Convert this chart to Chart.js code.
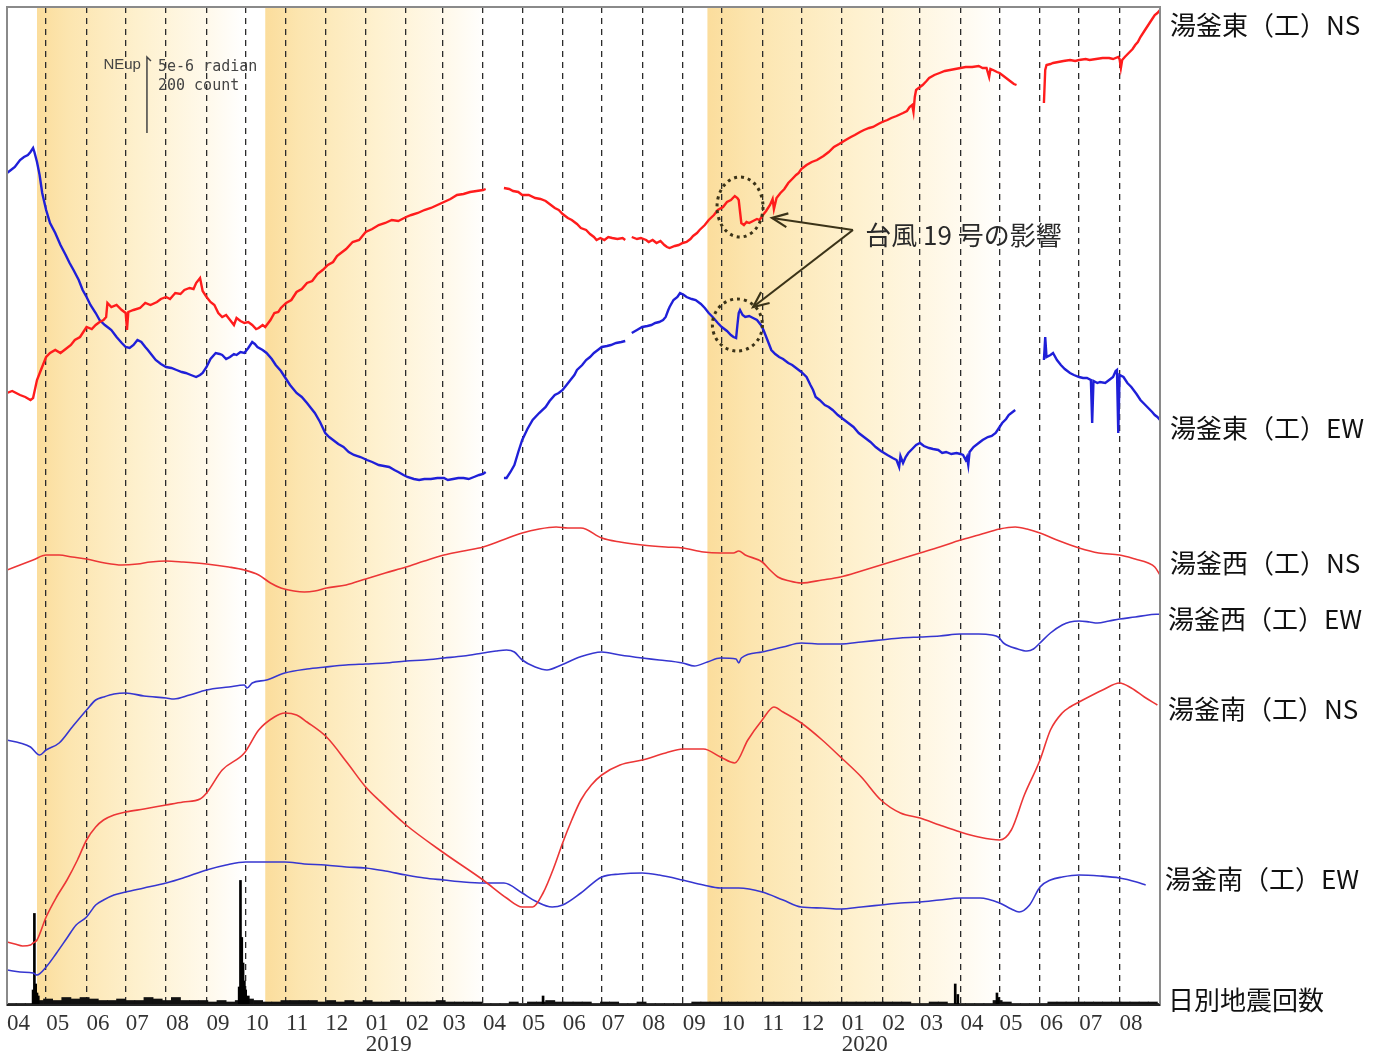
<!DOCTYPE html>
<html lang="ja">
<head>
<meta charset="utf-8">
<title>湯釜 傾斜計と日別地震回数</title>
<script src="https://cdn.jsdelivr.net/npm/chart.js@4.4.1/dist/chart.umd.min.js"></script>
<style>
  html, body { margin: 0; padding: 0; background: #fff; }
  #wrap { width: 1384px; height: 1059px; }
</style>
</head>
<body>
<div id="wrap"><canvas id="chart" width="1384" height="1059"></canvas></div>
<script>
// x = days since 2018-04-01, y = trace level (arbitrary, no axis shown)
const monthStarts = [0, 30, 61, 91, 122, 153, 183, 214, 244, 275, 306, 334, 365, 395, 426, 456, 487, 518, 548, 579, 609, 640, 671, 700, 731, 761, 792, 822, 853, 884]
const monthLabels = ['04', '05', '06', '07', '08', '09', '10', '11', '12', '01', '02', '03', '04', '05', '06', '07', '08', '09', '10', '11', '12', '01', '02', '03', '04', '05', '06', '07', '08', '']
const yearMarks = [[9, '2019'], [21, '2020']]

// shaded periods (start day, fades to white by end day)
const shadeStarts = [23, 198, 537]
const shadeEnds = [182, 368, 765]

const seriesNames = ['湯釜東（工）NS', '湯釜東（工）EW', '湯釜西（工）NS', '湯釜西（工）EW', '湯釜南（工）NS', '湯釜南（工）EW', '日別地震回数']

const eastNS = [[0,612],[4,614],[10,610],[14,608],[18,605],[20,607],[23,625],[26,635],[30,648],[33,652],[37,655],[41,652],[45,656],[49,660],[52,665],[56,668],[61,678],[65,676],[68,680],[71,683],[74,685],[76,688],[77,702],[80,698],[84,700],[88,695],[91,692],[92,675],[93,693],[97,695],[102,697],[106,702],[110,700],[115,703],[118,706],[122,708],[125,706],[129,712],[133,711],[136,715],[140,717],[143,716],[145,722],[148,727],[150,714],[153,708],[156,703],[159,700],[162,692],[165,688],[168,690],[171,685],[174,680],[176,687],[179,684],[182,682],[185,683],[188,680],[191,676],[193,677],[196,680],[198,678],[202,685],[205,692],[208,693],[210,697],[214,702],[218,705],[222,713],[226,716],[230,722],[234,724],[238,731],[242,735],[246,740],[250,743],[253,749],[256,752],[260,756],[265,763],[270,765],[275,773],[280,776],[285,780],[290,782],[295,785],[300,784],[306,788],[310,790],[315,792],[320,795],[325,797],[330,800],[335,803],[340,806],[345,810],[350,811],[355,813],[360,814],[365,815],[367,816],[368,null],[381,817],[385,816],[388,814],[392,813],[395,810],[400,810],[405,807],[409,806],[413,804],[417,800],[420,797],[423,795],[426,791],[430,787],[433,785],[437,781],[440,777],[444,775],[447,771],[450,768],[452,765],[455,767],[458,765],[461,768],[464,767],[468,766],[472,767],[474,765],[475,null],[479,768],[483,766],[486,767],[490,765],[492,763],[495,765],[498,762],[501,764],[504,760],[506,758],[508,757],[512,759],[515,760],[518,762],[521,763],[524,766],[526,769],[529,772],[531,775],[535,780],[538,785],[542,790],[545,795],[549,798],[552,803],[555,805],[558,809],[560,807],[561,805],[563,782],[565,780],[567,783],[569,782],[572,784],[575,786],[577,785],[579,789],[582,794],[585,800],[587,806],[588,796],[590,807],[593,812],[596,816],[599,822],[602,826],[605,830],[607,832],[609,836],[613,840],[617,843],[621,845],[626,849],[630,853],[634,858],[638,861],[643,865],[647,868],[650,870],[654,873],[657,875],[661,877],[664,878],[668,881],[671,883],[675,885],[678,887],[682,889],[687,892],[690,894],[692,898],[694,900],[695,893],[696,908],[697,915],[700,918],[702,920],[705,924],[707,927],[711,930],[715,932],[719,934],[723,935],[727,936],[731,937],[735,938],[740,938],[745,939],[748,937],[751,937],[753,928],[754,936],[756,935],[759,933],[761,932],[764,929],[766,927],[768,925],[770,923],[772,921],[774,920],[775,null],[795,902],[796,935],[797,940],[800,941],[802,942],[806,943],[810,944],[815,945],[819,944],[822,945],[827,946],[830,945],[835,946],[840,947],[845,947],[848,946],[852,948],[853,946],[854,937],[855,945],[857,948],[860,952],[863,956],[865,960],[867,963],[869,968],[872,974],[875,980],[878,986],[880,990],[882,992],[884,995]]

const eastEW = [[0,832],[3,835],[6,838],[10,845],[13,848],[16,850],[18,853],[20,857],[21,853],[23,843],[25,830],[27,812],[30,795],[33,782],[37,772],[41,760],[45,750],[48,742],[51,735],[55,725],[58,715],[61,708],[64,700],[68,692],[71,685],[75,680],[78,677],[80,675],[84,668],[88,662],[91,658],[94,657],[97,660],[100,665],[103,663],[106,658],[108,655],[111,650],[114,645],[118,641],[122,638],[126,637],[130,635],[134,633],[137,632],[141,630],[145,628],[148,630],[150,632],[153,638],[156,646],[160,652],[163,651],[165,650],[168,646],[171,648],[174,651],[176,650],[179,653],[182,652],[185,657],[188,663],[190,661],[192,658],[196,655],[199,652],[203,646],[206,640],[210,634],[213,628],[217,620],[222,612],[226,608],[230,602],[233,597],[236,592],[240,583],[244,572],[247,568],[250,565],[254,561],[258,558],[262,553],[266,550],[271,548],[276,545],[280,543],[285,540],[289,539],[293,538],[297,535],[300,533],[304,530],[307,528],[312,526],[316,525],[320,526],[325,526],[330,527],[335,527],[338,525],[342,526],[346,527],[350,527],[354,526],[358,528],[362,530],[365,531],[367,533],[368,null],[381,527],[383,527],[386,533],[389,540],[392,553],[395,565],[399,576],[403,585],[408,592],[413,598],[416,604],[420,610],[423,612],[426,615],[429,620],[432,625],[435,630],[437,635],[441,640],[444,645],[447,648],[450,652],[453,655],[456,658],[460,659],[463,660],[467,662],[471,663],[474,664],[475,null],[479,672],[483,675],[487,678],[491,679],[494,680],[497,682],[500,683],[503,685],[505,688],[507,695],[508,698],[511,705],[514,708],[516,712],[519,710],[521,708],[525,706],[528,705],[532,701],[535,697],[538,692],[541,688],[545,682],[548,678],[552,674],[555,670],[557,668],[559,667],[560,680],[561,692],[562,695],[564,690],[566,688],[569,689],[572,687],[575,685],[578,680],[580,675],[583,665],[586,655],[589,651],[592,648],[595,646],[599,642],[602,640],[605,637],[609,633],[613,628],[616,620],[618,615],[620,608],[623,605],[627,600],[630,598],[633,595],[637,590],[641,586],[645,582],[649,578],[653,572],[657,568],[662,563],[666,558],[670,554],[675,550],[679,547],[682,545],[684,538],[685,549],[687,542],[689,548],[691,552],[694,556],[697,560],[700,562],[703,559],[707,557],[710,556],[714,555],[717,552],[720,553],[724,551],[728,552],[731,551],[733,550],[735,545],[736,548],[737,540],[738,553],[741,558],[745,562],[748,565],[752,568],[755,569],[758,572],[761,578],[763,582],[766,586],[768,590],[771,593],[773,595],[774,null],[795,645],[796,668],[797,648],[800,650],[802,652],[805,645],[808,640],[811,636],[815,632],[818,630],[822,628],[825,627],[828,627],[831,625],[832,582],[833,624],[836,622],[838,623],[842,622],[845,625],[848,628],[850,634],[851,635],[852,572],[853,630],[856,628],[859,622],[862,618],[866,611],[869,605],[872,601],[875,597],[878,593],[880,590],[882,588],[884,585]]

const westNS = [[0,435],[10,440],[20,445],[30,450],[40,450],[50,448],[61,446],[75,442],[88,440],[100,441],[110,443],[122,444],[135,443],[153,441],[170,438],[182,435],[193,430],[202,422],[210,417],[220,414],[228,413],[236,414],[245,417],[260,420],[275,426],[290,432],[306,438],[320,444],[335,450],[350,454],[365,458],[380,465],[395,472],[408,476],[421,478],[430,477],[440,477],[456,467],[470,463],[487,460],[505,458],[518,457],[534,453],[547,452],[557,452],[561,454],[566,450],[579,443],[585,435],[591,428],[600,424],[609,422],[625,425],[639,428],[655,434],[670,440],[685,446],[700,452],[715,458],[731,465],[745,470],[761,476],[773,478],[782,476],[792,472],[807,464],[822,457],[837,452],[853,450],[865,446],[875,442],[880,438],[884,430]]

const westEW = [[0,265],[10,262],[18,258],[25,250],[30,255],[40,262],[50,278],[61,295],[68,305],[74,308],[82,311],[91,312],[105,309],[122,307],[128,306],[140,310],[153,315],[170,318],[182,320],[184,317],[188,322],[199,325],[213,332],[230,336],[244,338],[260,340],[275,341],[290,342],[306,344],[320,345],[335,347],[350,349],[365,352],[375,354],[383,355],[389,353],[395,345],[405,338],[414,335],[425,340],[439,348],[456,353],[470,350],[487,347],[500,345],[518,342],[527,339],[537,343],[547,347],[559,346],[561,342],[563,347],[579,353],[595,358],[609,362],[625,361],[639,361],[655,363],[670,365],[685,367],[700,368],[715,369],[731,371],[745,371],[755,370],[760,368],[764,362],[775,356],[782,354],[787,356],[792,362],[800,372],[809,380],[815,383],[822,384],[830,383],[836,382],[845,384],[853,386],[865,388],[875,390],[884,391]]

const southNS = [[0,63],[6,61],[12,59],[18,60],[20,62],[23,65],[30,88],[38,108],[46,125],[54,145],[61,165],[68,178],[74,185],[82,190],[91,193],[105,196],[122,200],[135,203],[148,206],[153,212],[165,235],[182,252],[193,275],[205,288],[213,292],[222,290],[230,283],[245,268],[261,242],[275,218],[285,205],[306,180],[335,152],[365,125],[383,107],[395,98],[403,98],[411,112],[420,140],[426,162],[433,185],[440,205],[448,220],[456,230],[470,240],[487,245],[505,252],[518,256],[534,256],[547,248],[558,242],[568,265],[579,285],[588,298],[595,293],[609,282],[625,265],[639,248],[655,228],[670,205],[685,192],[700,187],[715,180],[731,173],[745,168],[761,165],[770,175],[780,210],[792,245],[800,275],[809,292],[815,298],[822,303],[840,315],[853,322],[862,317],[872,308],[882,300]]

const southEW = [[0,35],[10,33],[20,32],[23,30],[30,38],[38,52],[46,67],[53,80],[61,88],[68,100],[74,105],[82,110],[91,113],[105,117],[122,122],[135,127],[153,135],[168,140],[183,143],[198,143],[213,143],[228,141],[244,140],[260,138],[275,137],[290,134],[306,130],[320,127],[335,125],[350,123],[365,122],[381,122],[395,112],[405,104],[418,98],[426,100],[440,112],[456,128],[470,131],[487,132],[500,130],[518,125],[534,120],[547,117],[561,117],[579,113],[595,105],[609,98],[625,97],[639,96],[655,98],[670,100],[685,102],[700,103],[715,105],[731,107],[746,107],[761,102],[770,96],[776,93],[784,100],[792,118],[800,125],[809,128],[822,130],[838,129],[853,127],[866,123],[873,120]]

// daily earthquake counts: weekly background level + individual high days
const quakeWeekly = [1,1,1,3,4,3,5,4,5,4, 3,3,4,3,3,5,4,3,5,3, 3,3,2,3,2,3,4,3,2,2, 3,3,3,3,2,3,2,3,2,3, 2,2,3,2,2,2,2,3,2,2, 2,2,1,1,1,2,1,2,2,3, 2,2,2,2,1,2,2,1,1,2, 1,1,1,1,1,2,2,2,2,2, 2,2,2,2,2,2,2,2,2,2, 2,2,2,2,2,2,2,2,2,1, 1,2,2,1,1,1,1,1,3,2, 1,1,1,1,2,2,2,2,2,2, 2,2,2,2,2,2,1]
const quakeDays = [20, 21, 22, 23, 24, 178, 179, 180, 181, 182, 183, 185, 411, 727, 729, 759, 760]
const quakeCounts = [10, 61, 14, 8, 6, 12, 83, 45, 28, 16, 10, 6, 6, 14, 7, 8, 5]

const toPoints = rows => rows.map(([x, y]) => ({x, y}))

const canvasBg = {
    id: 'canvasBg',
    beforeDraw(chart) {
        const {ctx, chartArea: a, scales: {x}} = chart
        ctx.save()
        ctx.fillStyle = '#fff'
        ctx.fillRect(0, 0, chart.width, chart.height)
        shadeStarts.forEach((start, i) => {
            const x0 = x.getPixelForValue(start)
            const x1 = x.getPixelForValue(shadeEnds[i])
            const g = ctx.createLinearGradient(x0, 0, x1, 0)
            g.addColorStop(0, 'rgb(251,221,156)')
            g.addColorStop(0.15, 'rgb(252,229,175)')
            g.addColorStop(0.5, 'rgb(254,241,207)')
            g.addColorStop(0.85, 'rgb(255,250,238)')
            g.addColorStop(1, 'rgb(255,255,255)')
            ctx.fillStyle = g
            ctx.fillRect(x0, a.top, x1 - x0, a.bottom - a.top)
        })
        ctx.restore()
    }
}

const notes = {
    id: 'notes',
    afterDraw(chart) {
        const {ctx, chartArea: a, scales: {x, y}} = chart
        ctx.save()
        // frame
        ctx.strokeStyle = '#8a8a8a'
        ctx.lineWidth = 2
        ctx.strokeRect(a.left, a.top, a.right - a.left, a.bottom - a.top)
        ctx.strokeStyle = '#000'
        ctx.lineWidth = 1.5
        ctx.beginPath()
        ctx.moveTo(a.left, a.bottom)
        ctx.lineTo(a.right, a.bottom)
        ctx.stroke()

        // scale bar: 200 count
        const bx = x.getPixelForValue(107.3)
        const by0 = y.getPixelForValue(948), by1 = y.getPixelForValue(872)
        ctx.strokeStyle = '#444'
        ctx.lineWidth = 1.5
        ctx.beginPath()
        ctx.moveTo(bx, by1)
        ctx.lineTo(bx, by0)
        ctx.lineTo(bx + 4, by0 + 4)
        ctx.stroke()
        ctx.fillStyle = '#444'
        ctx.textBaseline = 'middle'
        ctx.font = '15px "Liberation Sans", sans-serif'
        ctx.textAlign = 'right'
        ctx.fillText('NEup', bx - 6, by0 + 8)
        ctx.textAlign = 'left'
        ctx.font = '15px "DejaVu Sans Mono", monospace'
        ctx.fillText('5e-6 radian', bx + 11, by0 + 10)
        ctx.fillText('200 count', bx + 11, by0 + 29)

        // typhoon note
        const ink = '#3b3318'
        ctx.strokeStyle = ink
        ctx.lineWidth = 3
        ctx.setLineDash([3, 4])
        ;[[562, 798, 23, 30], [560, 680, 25, 26]].forEach(([d, v, rx, ry]) => {
            ctx.beginPath()
            ctx.ellipse(x.getPixelForValue(d), y.getPixelForValue(v), rx, ry, 0, 0, Math.PI * 2)
            ctx.stroke()
        })
        ctx.setLineDash([])
        ctx.lineWidth = 2.2
        const tx = x.getPixelForValue(648.6), ty = y.getPixelForValue(775)
        ;[[586.5, 787], [572, 698]].forEach(([d, v]) => {
            const hx = x.getPixelForValue(d), hy = y.getPixelForValue(v)
            const ang = Math.atan2(hy - ty, hx - tx)
            ctx.beginPath()
            ctx.moveTo(tx, ty)
            ctx.lineTo(hx, hy)
            ctx.stroke()
            ctx.beginPath()
            ctx.moveTo(hx - 17 * Math.cos(ang - 0.42), hy - 17 * Math.sin(ang - 0.42))
            ctx.lineTo(hx, hy)
            ctx.lineTo(hx - 17 * Math.cos(ang + 0.42), hy - 17 * Math.sin(ang + 0.42))
            ctx.stroke()
        })
        ctx.fillStyle = '#2a2a2a'
        ctx.font = '26px "Noto Sans CJK JP", sans-serif'
        ctx.textAlign = 'left'
        ctx.fillText('台風 19 号の影響', x.getPixelForValue(658), y.getPixelForValue(770))

        // trace names at the right
        const nameY = [25, 428, 563, 619, 709, 879, 1000]
        const nameDx = [10, 10, 10, 8, 8, 5, 8]
        ctx.fillStyle = '#111'
        seriesNames.forEach((name, i) => {
            ctx.fillText(name, a.right + nameDx[i], nameY[i])
        })
        ctx.restore()
    }
}

const lineSet = (label, rows, color, width, smooth) => ({
    type: 'line',
    label,
    data: toPoints(rows),
    borderColor: color,
    borderWidth: width,
    pointRadius: 0,
    spanGaps: false,
    tension: 0,
    cubicInterpolationMode: smooth ? 'monotone' : 'default'
})

const config = {
    type: 'line',
    data: {
        datasets: [
            lineSet(seriesNames[0], eastNS, '#ff1c1c', 2.4, false),
            lineSet(seriesNames[1], eastEW, '#1f1fd8', 2.4, false),
            lineSet(seriesNames[2], westNS, '#ec3636', 1.6, true),
            lineSet(seriesNames[3], westEW, '#3636d0', 1.6, true),
            lineSet(seriesNames[4], southNS, '#ec3636', 1.6, true),
            lineSet(seriesNames[5], southEW, '#3636d0', 1.6, true),
            {
                type: 'bar',
                label: seriesNames[6],
                data: quakeDays.map((d, i) => ({x: d, y: quakeCounts[i]})),
                backgroundColor: '#000',
                barThickness: 2,
                grouped: false,
                yAxisID: 'yq'
            },
            {
                type: 'bar',
                label: seriesNames[6] + ' (週)',
                data: quakeWeekly.map((c, i) => ({x: i * 7 + 3.5, y: c})),
                backgroundColor: '#111',
                barThickness: 9.2,
                grouped: false,
                yAxisID: 'yq'
            }
        ]
    },
    options: {
        responsive: false,
        animation: false,
        devicePixelRatio: 1,
        parsing: false,
        layout: {padding: {left: 7, top: 7, right: 224, bottom: 0}},
        plugins: {
            legend: {display: false},
            tooltip: {enabled: false}
        },
        scales: {
            x: {
                type: 'linear',
                min: 0,
                max: 884,
                offset: false,
                afterBuildTicks(scale) {
                    scale.ticks = monthStarts.map(v => ({value: v}))
                },
                afterFit(scale) {
                    scale.height = 54
                    scale.paddingLeft = 0
                    scale.paddingRight = 0
                },
                grid: {color: '#2b2b2b', lineWidth: 1.3, drawTicks: false, offset: false},
                border: {display: false, dash: [6, 5]},
                ticks: {
                    autoSkip: false,
                    maxRotation: 0,
                    minRotation: 0,
                    align: 'start',
                    padding: 9,
                    color: '#333',
                    font: {family: '"Liberation Serif", serif', size: 23, lineHeight: 0.9},
                    callback(value) {
                        const i = monthStarts.indexOf(value)
                        const year = yearMarks.find(m => m[0] === i)
                        return year ? [monthLabels[i], year[1]] : monthLabels[i]
                    }
                }
            },
            y: {type: 'linear', display: false, min: 0, max: 998},
            yq: {type: 'linear', display: false, min: 0, max: 665}
        }
    },
    plugins: [canvasBg, notes]
}

new Chart(document.getElementById('chart'), config)
</script>
</body>
</html>
